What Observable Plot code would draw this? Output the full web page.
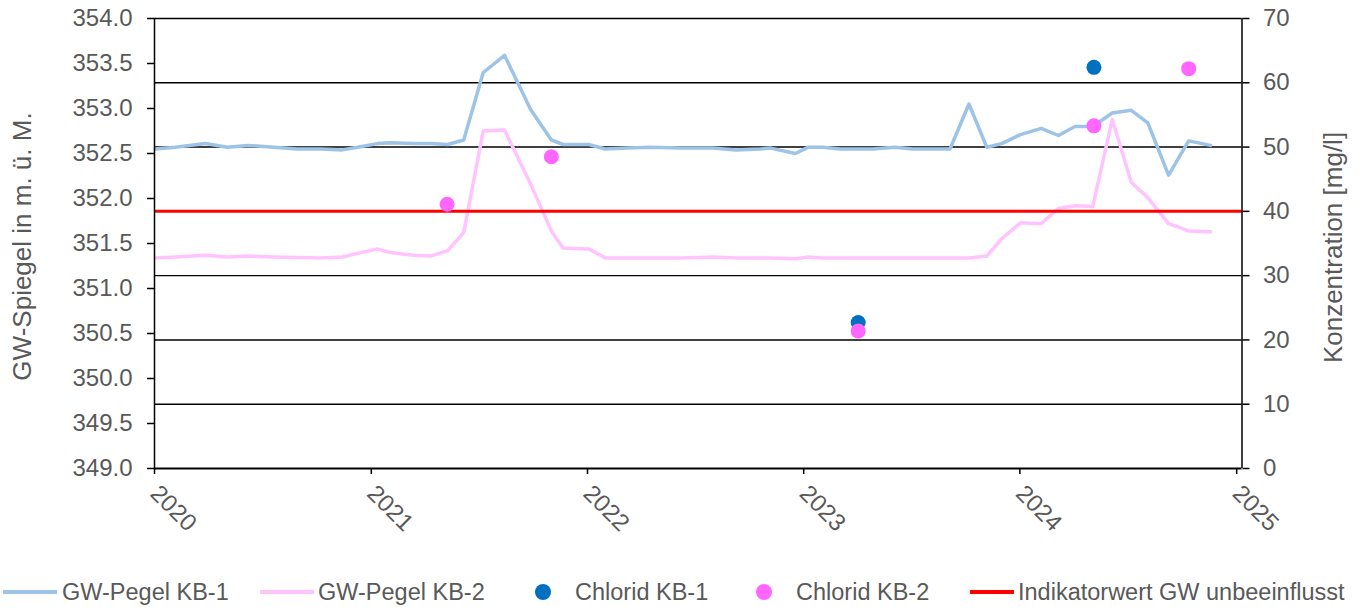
<!DOCTYPE html>
<html>
<head>
<meta charset="utf-8">
<script src="https://cdn.jsdelivr.net/npm/d3@7"></script>
<script src="https://cdn.jsdelivr.net/npm/@observablehq/plot@0.6"></script>
<style>
  html, body { margin: 0; padding: 0; background: #fff; }
  body { width: 1359px; height: 607px; overflow: hidden; font-family: "Liberation Sans", Arial, sans-serif; }
  #legend { position: relative; height: 40px; margin-top: 12px; font-size: 23.5px; color: #595959; white-space: nowrap; }
  .sw-line { position: absolute; top: 18px; height: 4px; }
  .sw-dot { position: absolute; top: 12px; width: 16px; height: 16px; border-radius: 50%; }
  .lab { position: absolute; top: 6px; line-height: 28px; }
</style>
</head>
<body>
<div id="chart"></div>
<div id="legend"></div>
<script>
// ---- data ----
const dates = ["2020-01-02","2020-02-05","2020-03-27","2020-05-03","2020-06-07","2020-07-20","2020-08-29","2020-10-07","2020-11-13","2020-12-09",
  "2021-01-11","2021-02-02","2021-03-13","2021-04-11","2021-05-10","2021-06-06","2021-07-09","2021-08-14","2021-09-27","2021-11-01","2021-11-21",
  "2022-01-03","2022-01-31","2022-03-09","2022-04-17","2022-06-07","2022-08-01","2022-09-08","2022-10-20","2022-11-06","2022-12-18",
  "2023-01-09","2023-02-02","2023-03-04","2023-04-28","2023-06-04","2023-07-04","2023-09-05","2023-10-07","2023-11-06","2023-12-01",
  "2024-01-02","2024-02-06","2024-03-06","2024-04-03","2024-05-03","2024-06-05","2024-07-07","2024-08-04","2024-09-08","2024-10-12","2024-11-18"];
const pegelKB1 = [352.55,352.57,352.61,352.57,352.59,352.57,352.55,352.55,352.54,352.57,
  352.61,352.62,352.61,352.61,352.60,352.65,353.40,353.59,352.99,352.65,352.60,
  352.60,352.55,352.56,352.57,352.56,352.56,352.54,352.55,352.56,352.50,
  352.57,352.57,352.55,352.55,352.57,352.55,352.55,353.05,352.57,352.61,
  352.71,352.78,352.70,352.80,352.80,352.95,352.98,352.84,352.26,352.64,352.59];
const pegelKB2 = [351.34,351.35,351.37,351.35,351.36,351.35,351.345,351.34,351.35,351.39,
  351.44,351.40,351.37,351.36,351.42,351.62,352.75,352.76,352.16,351.64,351.45,
  351.44,351.34,351.34,351.34,351.34,351.35,351.34,351.34,351.34,351.33,
  351.35,351.34,351.34,351.34,351.34,351.34,351.34,351.34,351.36,351.55,
  351.73,351.72,351.89,351.92,351.91,352.88,352.18,352.01,351.72,351.64,351.63];
const chloridKB1Dates = ["2023-04-03","2024-05-05"];
const chloridKB1 = [22.7, 62.4];
const chloridKB2Dates = ["2021-05-09","2021-11-01","2023-04-03","2024-05-05","2024-10-12"];
const chloridKB2 = [41.1, 48.5, 21.4, 53.3, 62.2];
const indikatorwert = 40;
const leftTicks = [349.0,349.5,350.0,350.5,351.0,351.5,352.0,352.5,353.0,353.5,354.0];
const rightTicks = [0,10,20,30,40,50,60,70];
const yearTicks = ["2020-01-01","2021-01-01","2022-01-01","2023-01-01","2024-01-01","2025-01-01"];
const xDomain = ["2020-01-01","2025-01-10"];
const leftTitle = "GW-Spiegel in m. ü. M.";
const rightTitle = "Konzentration [mg/l]";
const legendLabels = ["GW-Pegel KB-1","GW-Pegel KB-2","Chlorid KB-1","Chlorid KB-2","Indikatorwert GW unbeeinflusst"];

// ---- styles ----
const C = {kb1Line:"#9dc3e6", kb2Line:"#ffc4ff", kb1Dot:"#0070c0", kb2Dot:"#ff66ff", ind:"#ff0000", text:"#595959"};
const parse = d3.utcParse("%Y-%m-%d");
const yMin = 349, yMax = 354, cMax = 70;
const toLeft = c => yMin + c * (yMax - yMin) / cMax;

const lines = dates.map((d, i) => ({date: parse(d), kb1: pegelKB1[i], kb2: pegelKB2[i]}));
const dots1 = chloridKB1Dates.map((d, i) => ({date: parse(d), v: toLeft(chloridKB1[i])}));
const dots2 = chloridKB2Dates.map((d, i) => ({date: parse(d), v: toLeft(chloridKB2[i])}));
const x0 = parse(xDomain[0]), x1 = parse(xDomain[1]);

const font = "'Liberation Sans', Arial, sans-serif";
const chart = Plot.plot({
  width: 1359, height: 560,
  marginLeft: 154, marginRight: 117.5, marginTop: 18, marginBottom: 92,
  style: {fontFamily: font, fontSize: "24px", color: C.text, background: "#fff"},
  x: {type: "utc", domain: [x0, x1]},
  y: {domain: [yMin, yMax]},
  marks: [
    Plot.ruleY(rightTicks.slice(1, -1).map(toLeft), {stroke: "#000", strokeWidth: 1.4}),
    Plot.line(lines, {x: "date", y: "kb1", stroke: C.kb1Line, strokeWidth: 3.5}),
    Plot.line(lines, {x: "date", y: "kb2", stroke: C.kb2Line, strokeWidth: 3.5}),
    Plot.ruleY([toLeft(indikatorwert)], {stroke: C.ind, strokeWidth: 3}),
    Plot.dot(dots1, {x: "date", y: "v", r: 7.5, fill: C.kb1Dot}),
    Plot.dot(dots2, {x: "date", y: "v", r: 7.5, fill: C.kb2Dot}),
    Plot.ruleX([x0], {stroke: "#000", strokeWidth: 1.5}),
    Plot.ruleX([x1], {stroke: "#000", strokeWidth: 1.5}),
    Plot.ruleY([yMin], {stroke: "#000", strokeWidth: 2}),
    Plot.ruleY([yMax], {stroke: "#000", strokeWidth: 1.5}),
    Plot.axisY(leftTicks, {anchor: "left", tickFormat: d => d.toFixed(1), tickSize: 7, tickPadding: 15, stroke: "#000", strokeWidth: 1.5, fill: C.text, label: null}),
    Plot.axisY(rightTicks.map(toLeft), {anchor: "right", tickFormat: v => String(Math.round((v - yMin) * cMax / (yMax - yMin))), tickSize: 7, tickPadding: 14, stroke: "#000", strokeWidth: 1.5, fill: C.text, label: null}),
    Plot.axisX(yearTicks.map(parse), {anchor: "bottom", tickFormat: d3.utcFormat("%Y"), tickSize: 6, tickPadding: 15, tickRotate: 45, stroke: "#000", strokeWidth: 1.5, fill: C.text, label: null}),
    Plot.text([leftTitle], {frameAnchor: "left", dx: -132, dy: 3, rotate: -90, fontSize: 26, fill: C.text, textAnchor: "middle"}),
    Plot.text([rightTitle], {frameAnchor: "right", dx: 92, dy: 4, rotate: -90, fontSize: 26, fill: C.text, textAnchor: "middle"})
  ]
});
document.getElementById("chart").appendChild(chart);

// ---- legend ----
const legend = document.getElementById("legend");
const kinds = [["line", C.kb1Line, 3, 54, 62], ["line", C.kb2Line, 260, 54, 318], ["dot", C.kb1Dot, 535, 16, 575], ["dot", C.kb2Dot, 756, 16, 796], ["line", C.ind, 970, 44, 1018]];
legendLabels.forEach((lab, i) => {
  const [kind, color, swLeft, swW, txLeft] = kinds[i];
  const sw = document.createElement("span");
  sw.className = kind === "line" ? "sw-line" : "sw-dot";
  sw.style.background = color;
  sw.style.left = swLeft + "px";
  sw.style.width = swW + "px";
  legend.appendChild(sw);
  const t = document.createElement("span");
  t.className = "lab";
  t.style.left = txLeft + "px";
  t.textContent = lab;
  legend.appendChild(t);
});
</script>
</body>
</html>
